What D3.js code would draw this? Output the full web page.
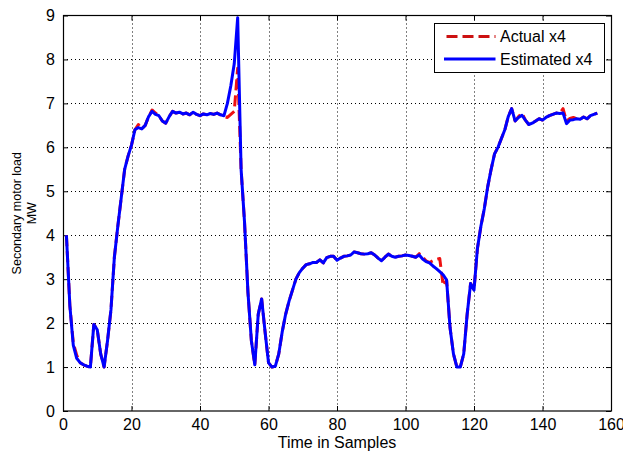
<!DOCTYPE html>
<html>
<head>
<meta charset="utf-8">
<script src="https://cdnjs.cloudflare.com/ajax/libs/d3/7.8.5/d3.min.js"></script>
<style>
  body { margin: 0; background: #fff; }
  svg { display: block; font-family: "Liberation Sans", Arial, sans-serif; }
</style>
</head>
<body>
<div id="chart"></div>
<script>
// samples 1..156
var estimatedX4 = [
  4.0, 2.4, 1.5, 1.2, 1.1, 1.05, 1.02, 1.0, 1.97, 1.85,
  1.3, 1.0, 1.6, 2.3, 3.5, 4.2, 4.85, 5.5, 5.8, 6.05,
  6.4, 6.45, 6.42, 6.5, 6.7, 6.82, 6.75, 6.72, 6.6, 6.55,
  6.7, 6.82, 6.78, 6.8, 6.76, 6.78, 6.74, 6.8, 6.75, 6.72,
  6.76, 6.74, 6.77, 6.75, 6.78, 6.74, 6.72, 7.0, 7.4, 7.9,
  8.95, 5.5, 4.3, 2.7, 1.6, 1.05, 2.2, 2.55, 1.8, 1.1,
  1.0, 1.02, 1.3, 1.8, 2.2, 2.5, 2.75, 3.0, 3.15, 3.25,
  3.33, 3.35, 3.38, 3.38, 3.44, 3.37, 3.49, 3.52, 3.52, 3.43,
  3.48, 3.52, 3.53, 3.55, 3.62, 3.6, 3.58, 3.57, 3.58, 3.6,
  3.55, 3.48, 3.42, 3.5, 3.57, 3.52, 3.5, 3.52, 3.53, 3.55,
  3.54, 3.52, 3.5, 3.55, 3.46, 3.4, 3.37, 3.3, 3.24, 3.17,
  3.1, 2.98, 1.9, 1.3, 1.0, 1.0, 1.3, 2.2, 2.9, 2.75,
  3.7, 4.2, 4.6, 5.1, 5.5, 5.85, 6.0, 6.2, 6.4, 6.7,
  6.88, 6.6, 6.68, 6.73, 6.62, 6.52, 6.55, 6.6, 6.65, 6.62,
  6.68, 6.72, 6.75, 6.78, 6.77, 6.78, 6.54, 6.62, 6.63, 6.65,
  6.64, 6.69, 6.65, 6.72, 6.75, 6.78
];
var actualX4 = [
  4.0, 2.4, 1.55, 1.27, 1.1, 1.05, 1.02, 1.0, 1.97, 1.85,
  1.3, 1.0, 1.6, 2.3, 3.5, 4.2, 4.85, 5.5, 5.8, 6.05,
  6.4, 6.52, 6.42, 6.5, 6.7, 6.85, 6.78, 6.72, 6.6, 6.55,
  6.7, 6.82, 6.78, 6.8, 6.76, 6.78, 6.74, 6.8, 6.75, 6.72,
  6.76, 6.74, 6.77, 6.75, 6.78, 6.74, 6.7, 6.68, 6.75, 6.82,
  7.8, 5.5, 4.3, 2.7, 1.6, 1.05, 2.2, 2.55, 1.8, 1.1,
  1.0, 1.02, 1.3, 1.8, 2.2, 2.5, 2.75, 3.0, 3.15, 3.25,
  3.33, 3.35, 3.38, 3.38, 3.44, 3.37, 3.49, 3.52, 3.52, 3.43,
  3.48, 3.52, 3.53, 3.55, 3.62, 3.6, 3.58, 3.57, 3.58, 3.6,
  3.55, 3.48, 3.42, 3.5, 3.57, 3.52, 3.5, 3.52, 3.53, 3.55,
  3.54, 3.52, 3.5, 3.58, 3.5, 3.42, 3.38, 3.42, 3.45, 3.47,
  2.85, 2.98, 1.9, 1.3, 1.0, 1.0, 1.3, 2.2, 2.9, 2.75,
  3.7, 4.2, 4.6, 5.1, 5.5, 5.85, 6.0, 6.2, 6.4, 6.7,
  6.88, 6.6, 6.7, 6.78, 6.62, 6.52, 6.55, 6.6, 6.65, 6.62,
  6.68, 6.72, 6.75, 6.78, 6.77, 6.88, 6.6, 6.66, 6.68, 6.65,
  6.64, 6.69, 6.65, 6.72, 6.75, 6.78
];
var xTicks = [0, 20, 40, 60, 80, 100, 120, 140, 160];
var yTicks = [0, 1, 2, 3, 4, 5, 6, 7, 8, 9];
var legendLabels = ['Actual x4', 'Estimated x4'];

var chartWidth = 623, chartHeight = 452;
var plotLeft = 63, plotRight = 611, plotTop = 15.5, plotBottom = 411;

var svg = d3.select('#chart').append('svg')
  .attr('width', chartWidth)
  .attr('height', chartHeight);

svg.append('rect')
  .attr('width', chartWidth)
  .attr('height', chartHeight)
  .attr('fill', '#fff');

var x = d3.scaleLinear().domain([0, 160]).range([plotLeft, plotRight]);
var y = d3.scaleLinear().domain([0, 9]).range([plotBottom, plotTop]);

// dotted grid
var grid = svg.append('g')
  .attr('stroke', '#000')
  .attr('stroke-width', 1)
  .attr('stroke-dasharray', '1,3');

grid.selectAll('.gx')
  .data(xTicks.slice(1, -1))
  .enter()
  .append('line')
  .attr('x1', function (d) { return Math.round(x(d)) + 0.5; })
  .attr('x2', function (d) { return Math.round(x(d)) + 0.5; })
  .attr('y1', plotTop)
  .attr('y2', plotBottom);

grid.selectAll('.gy')
  .data(yTicks.slice(1, -1))
  .enter()
  .append('line')
  .attr('y1', function (d) { return Math.round(y(d)) + 0.5; })
  .attr('y2', function (d) { return Math.round(y(d)) + 0.5; })
  .attr('x1', plotLeft)
  .attr('x2', plotRight);

// axes, ticks pointing inward like matlab
var fontSize = 16;
svg.append('g')
  .attr('transform', 'translate(0,' + plotBottom + ')')
  .call(d3.axisBottom(x).tickValues(xTicks).tickSizeInner(-5).tickSizeOuter(0).tickPadding(8));
svg.append('g')
  .attr('transform', 'translate(' + plotLeft + ',0)')
  .call(d3.axisLeft(y).tickValues(yTicks).tickSizeInner(-5).tickSizeOuter(0).tickPadding(8));
svg.append('g')
  .attr('transform', 'translate(0,' + plotTop + ')')
  .call(d3.axisTop(x).tickValues(xTicks).tickSizeInner(-5).tickSizeOuter(0).tickFormat(''));
svg.append('g')
  .attr('transform', 'translate(' + plotRight + ',0)')
  .call(d3.axisRight(y).tickValues(yTicks).tickSizeInner(-5).tickSizeOuter(0).tickFormat(''));

svg.selectAll('.domain').remove();
svg.selectAll('.tick line').attr('stroke', '#000');
svg.selectAll('.tick text')
  .attr('fill', '#000')
  .style('font-size', fontSize + 'px')
  .style('font-family', '"Liberation Sans", Arial, sans-serif');

// series
var line = d3.line()
  .x(function (d, i) { return x(i + 1); })
  .y(function (d) { return y(d); });

svg.append('path')
  .datum(actualX4)
  .attr('d', line)
  .attr('fill', 'none')
  .attr('stroke', '#ee1111')
  .attr('stroke-width', 3)
  .attr('stroke-dasharray', '11,5')
  .attr('stroke-linejoin', 'round');

svg.append('path')
  .datum(estimatedX4)
  .attr('d', line)
  .attr('fill', 'none')
  .attr('stroke', '#0000ff')
  .attr('stroke-width', 3)
  .attr('stroke-linejoin', 'round');

// box
svg.append('rect')
  .attr('x', plotLeft + 0.5)
  .attr('y', plotTop)
  .attr('width', plotRight - plotLeft)
  .attr('height', plotBottom - plotTop)
  .attr('fill', 'none')
  .attr('stroke', '#000')
  .attr('stroke-width', 1.2);

// labels
svg.append('text')
  .attr('x', (plotLeft + plotRight) / 2)
  .attr('y', 448)
  .attr('text-anchor', 'middle')
  .attr('font-size', fontSize)
  .text('Time in Samples');

var yLabel = svg.append('text')
  .attr('transform', 'translate(21,' + ((plotTop + plotBottom) / 2) + ') rotate(-90)')
  .attr('text-anchor', 'middle')
  .attr('font-size', 12.5);
yLabel.append('tspan').attr('x', 0).attr('dy', 0).text('Secondary motor load');
yLabel.append('tspan').attr('x', 0).attr('dy', 15).text('MW');

// legend
var legend = svg.append('g').attr('transform', 'translate(434.5,23.5)');
legend.append('rect')
  .attr('width', 170)
  .attr('height', 49)
  .attr('fill', '#fff')
  .attr('stroke', '#000')
  .attr('stroke-width', 1);

var legendStyles = [
  { color: '#cc1111', dash: '11,5' },
  { color: '#0000ff', dash: null }
];
var legendItem = legend.selectAll('.legend-item')
  .data(legendLabels)
  .enter()
  .append('g')
  .attr('class', 'legend-item')
  .attr('transform', function (d, i) { return 'translate(0,' + (13 + i * 22.5) + ')'; });

legendItem.append('line')
  .attr('x1', function (d, i) { return i === 0 ? 12 : 9.5; })
  .attr('x2', 61)
  .attr('y1', 0)
  .attr('y2', 0)
  .attr('stroke', function (d, i) { return legendStyles[i].color; })
  .attr('stroke-width', 3)
  .attr('stroke-dasharray', function (d, i) { return legendStyles[i].dash; });

legendItem.append('text')
  .attr('x', 65.5)
  .attr('y', 0)
  .attr('dy', '0.36em')
  .attr('font-size', fontSize)
  .text(function (d) { return d; });
</script>
</body>
</html>
